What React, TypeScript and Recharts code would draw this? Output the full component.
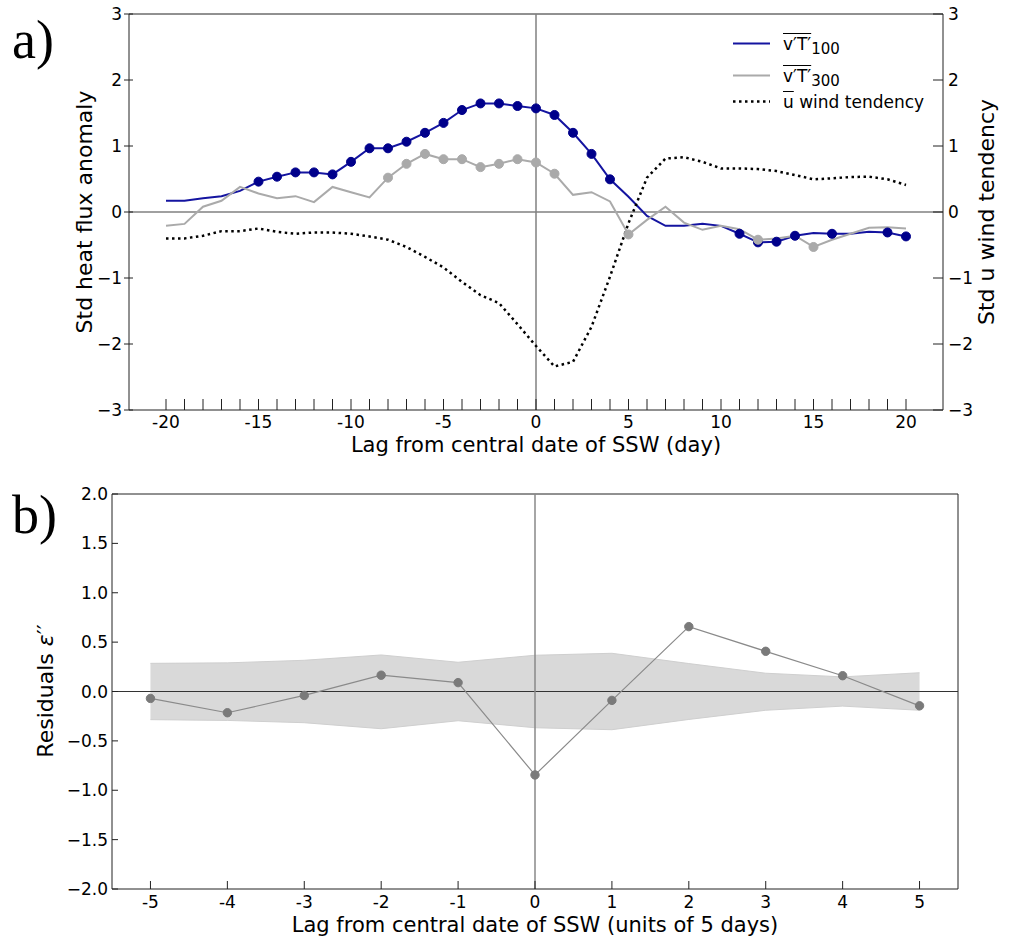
import React from 'react';
import { LineChart, ComposedChart, Line, Area, XAxis, YAxis, ReferenceLine, Legend, Label } from 'recharts';

const days = [-20, -19, -18, -17, -16, -15, -14, -13, -12, -11, -10, -9, -8, -7, -6, -5, -4, -3, -2, -1, 0, 1, 2, 3, 4, 5, 6, 7, 8, 9, 10, 11, 12, 13, 14, 15, 16, 17, 18, 19, 20];
const vt100 = [0.17, 0.17, 0.21, 0.24, 0.32, 0.46, 0.535, 0.6, 0.6, 0.57, 0.76, 0.965, 0.965, 1.065, 1.2, 1.35, 1.545, 1.645, 1.645, 1.606, 1.57, 1.47, 1.2, 0.88, 0.495, 0.23, -0.06, -0.21, -0.21, -0.18, -0.21, -0.33, -0.46, -0.45, -0.36, -0.32, -0.33, -0.33, -0.3, -0.31, -0.37];
const vt300 = [-0.21, -0.18, 0.08, 0.17, 0.38, 0.28, 0.21, 0.24, 0.15, 0.38, 0.3, 0.22, 0.52, 0.73, 0.88, 0.8, 0.8, 0.68, 0.73, 0.8, 0.75, 0.58, 0.26, 0.3, 0.16, -0.34, -0.12, 0.08, -0.16, -0.27, -0.21, -0.26, -0.42, -0.4, -0.36, -0.53, -0.42, -0.33, -0.24, -0.23, -0.25];
const uTend = [-0.4, -0.4, -0.36, -0.29, -0.29, -0.25, -0.3, -0.33, -0.31, -0.31, -0.33, -0.37, -0.42, -0.53, -0.68, -0.84, -1.06, -1.26, -1.38, -1.7, -2.03, -2.34, -2.27, -1.74, -0.98, -0.17, 0.52, 0.81, 0.83, 0.76, 0.66, 0.66, 0.65, 0.62, 0.56, 0.495, 0.51, 0.53, 0.535, 0.495, 0.41];
const vt100Markers = [-15, -14, -13, -12, -11, -10, -9, -8, -7, -6, -5, -4, -3, -2, -1, 0, 1, 2, 3, 4, 11, 12, 13, 14, 16, 19, 20];
const vt300Markers = [-8, -7, -6, -5, -4, -3, -2, -1, 0, 1, 5, 12, 15];
const topYTicks = [-3, -2, -1, 0, 1, 2, 3];

const lags = [-5, -4, -3, -2, -1, 0, 1, 2, 3, 4, 5];
const residuals = [-0.07, -0.215, -0.04, 0.165, 0.09, -0.845, -0.09, 0.657, 0.407, 0.16, -0.145];
const bandUpper = [0.285, 0.29, 0.316, 0.37, 0.296, 0.367, 0.387, 0.283, 0.185, 0.148, 0.19];
const bandLower = [-0.285, -0.293, -0.316, -0.377, -0.296, -0.367, -0.387, -0.283, -0.19, -0.148, -0.19];
const bottomYTicks = [-2, -1.5, -1, -0.5, 0, 0.5, 1, 1.5, 2];

const legendLabels = ['100', '300', ' wind tendency'];

const FONT = 'DejaVu Sans';

const topData = days.map((d, i) => ({ day: d, vt100: vt100[i], vt300: vt300[i], u: uTend[i] }));
const bottomData = lags.map((l, i) => ({ lag: l, res: residuals[i], band: [bandLower[i], bandUpper[i]] }));

const uminus = (s: string) => s.replace('-', '\u2212');

const TopXTick = (props: any) => {
  const { x, y, payload } = props;
  const v = payload.value;
  return (
    <g>
      <line x1={x} x2={x} y1={y} y2={y - 11} stroke="#222" strokeWidth={1} />
      {v % 5 === 0 ? (
        <text x={x} y={y + 18} textAnchor="middle" fontSize={17} fontFamily={FONT} fill="#000">{String(v)}</text>
      ) : null}
    </g>
  );
};

const TopLeftTick = (props: any) => {
  const { x, y, payload } = props;
  return (
    <g>
      <line x1={x - 5} x2={x + 4} y1={y} y2={y} stroke="#222" strokeWidth={1} />
      <text x={x - 7} y={y + 6} textAnchor="end" fontSize={17} fontFamily={FONT} fill="#000">{uminus(String(payload.value))}</text>
    </g>
  );
};

const TopRightTick = (props: any) => {
  const { x, y, payload } = props;
  return (
    <g>
      <line x1={x - 10} x2={x} y1={y} y2={y} stroke="#222" strokeWidth={1} />
      <text x={x + 5} y={y + 6} textAnchor="start" fontSize={17} fontFamily={FONT} fill="#000">{uminus(String(payload.value))}</text>
    </g>
  );
};

const BottomXTick = (props: any) => {
  const { x, y, payload } = props;
  return (
    <g>
      <line x1={x} x2={x} y1={y} y2={y - 8} stroke="#222" strokeWidth={1} />
      <text x={x} y={y + 19} textAnchor="middle" fontSize={17} fontFamily={FONT} fill="#000">{String(payload.value)}</text>
    </g>
  );
};

const BottomLeftTick = (props: any) => {
  const { x, y, payload } = props;
  const v = Number(payload.value);
  return (
    <g>
      <line x1={x} x2={x + 6} y1={y} y2={y} stroke="#222" strokeWidth={1} />
      <text x={x - 4} y={y + 6} textAnchor="end" fontSize={17} fontFamily={FONT} fill="#000">{uminus(v.toFixed(1))}</text>
    </g>
  );
};

const makeDot = (markers: number[], color: string) => (props: any) => {
  const { cx, cy, payload, index } = props;
  if (!markers.includes(payload.day)) return <g key={`e${index}`} />;
  return <circle key={`c${index}`} cx={cx} cy={cy} r={4.5} fill={color} stroke={color} strokeWidth={1} />;
};

const LegendBox = () => {
  const rowText = (top: number) => ({ position: 'absolute' as const, left: 63, top, fontSize: 17, lineHeight: '17px', fontFamily: FONT, whiteSpace: 'nowrap' as const, color: '#000' });
  return (
    <div style={{ position: 'relative', width: 260, height: 100 }}>
      <svg width={60} height={100} style={{ position: 'absolute', left: 0, top: 0 }}>
        <line x1={13} x2={50} y1={23.5} y2={23.5} stroke="#1414a0" strokeWidth={2} />
        <line x1={13} x2={50} y1={55.5} y2={55.5} stroke="#aaaaaa" strokeWidth={2} />
        <line x1={13} x2={50} y1={81.5} y2={81.5} stroke="#000" strokeWidth={2.5} strokeDasharray="2.5 3.5" />
      </svg>
      <div style={rowText(30 - 14.4)}>
        <span style={{ textDecoration: 'overline' }}>v′T′</span><sub style={{ fontSize: 15, verticalAlign: '-4px' }}>{legendLabels[0]}</sub>
      </div>
      <div style={rowText(62 - 14.4)}>
        <span style={{ textDecoration: 'overline' }}>v′T′</span><sub style={{ fontSize: 15, verticalAlign: '-4px' }}>{legendLabels[1]}</sub>
      </div>
      <div style={rowText(88 - 14.4)}>
        <span style={{ textDecoration: 'overline' }}>u</span>{legendLabels[2]}
      </div>
    </div>
  );
};

export default function App() {
  return (
    <div style={{ position: 'absolute', left: 0, top: 0, width: 1009, height: 938, background: '#fff', fontFamily: FONT }}>
      <div style={{ position: 'absolute', left: 0, top: 0 }}>
        <LineChart width={1009} height={470} data={topData} margin={{ top: 14, right: 0, bottom: 0, left: 0 }}>
          <XAxis dataKey="day" type="number" domain={[-22, 22]} ticks={days} interval={0} height={60}
            tickSize={0} tickMargin={0} tick={TopXTick} axisLine={{ stroke: '#222', strokeWidth: 1 }} tickLine={false}>
            <Label content={() => (
              <text x={536} y={452} textAnchor="middle" fontSize={21} fontFamily={FONT} fill="#000">Lag from central date of SSW (day)</text>
            )} />
          </XAxis>
          <YAxis yAxisId="left" type="number" domain={[-3, 3]} ticks={topYTicks} interval={0} width={129}
            tickSize={0} tickMargin={0} tick={TopLeftTick} axisLine={{ stroke: '#222', strokeWidth: 1 }} tickLine={false}>
            <Label content={() => (
              <g>
                <text x={92} y={212} transform="rotate(-90 92 212)" textAnchor="middle" fontSize={22} fontFamily={FONT} fill="#000">Std heat flux anomaly</text>
                <text x={12} y={58} fontSize={54} fontFamily="Liberation Serif" fill="#000">a)</text>
              </g>
            )} />
          </YAxis>
          <YAxis yAxisId="right" orientation="right" type="number" domain={[-3, 3]} ticks={topYTicks} interval={0} width={66}
            tickSize={0} tickMargin={0} tick={TopRightTick} axisLine={{ stroke: '#222', strokeWidth: 1 }} tickLine={false}>
            <Label content={() => (
              <text x={994} y={212} transform="rotate(-90 994 212)" textAnchor="middle" fontSize={22} fontFamily={FONT} fill="#000">Std u wind tendency</text>
            )} />
          </YAxis>
          <ReferenceLine yAxisId="left" y={3} stroke="#222" strokeWidth={1} />
          <ReferenceLine yAxisId="left" y={0} stroke="#808080" strokeWidth={1.5} />
          <ReferenceLine yAxisId="left" x={0} stroke="#808080" strokeWidth={1.5} />
          <Line yAxisId="left" dataKey="vt100" type="linear" stroke="#1414a0" strokeWidth={2} dot={makeDot(vt100Markers, '#00008b')} activeDot={false} isAnimationActive={false} />
          <Line yAxisId="left" dataKey="vt300" type="linear" stroke="#aaaaaa" strokeWidth={2} dot={makeDot(vt300Markers, '#aaaaaa')} activeDot={false} isAnimationActive={false} />
          <Line yAxisId="right" dataKey="u" type="linear" stroke="#000" strokeWidth={2.5} strokeDasharray="2.5 3.5" dot={false} activeDot={false} isAnimationActive={false} />
          <Legend layout="horizontal" verticalAlign="middle" align="center" content={() => <LegendBox />}
            wrapperStyle={{ position: 'absolute', left: 720, top: 20, width: 260, height: 100 }} />
        </LineChart>
      </div>
      <div style={{ position: 'absolute', left: 0, top: 470 }}>
        <ComposedChart width={1009} height={468} data={bottomData} margin={{ top: 24, right: 51, bottom: 0, left: 0 }}>
          <XAxis dataKey="lag" type="number" domain={[-5.5, 5.5]} ticks={lags} interval={0} height={49}
            tickSize={0} tickMargin={0} tick={BottomXTick} axisLine={{ stroke: '#222', strokeWidth: 1 }} tickLine={false}>
            <Label content={() => (
              <text x={535} y={462} textAnchor="middle" fontSize={21} fontFamily={FONT} fill="#000">Lag from central date of SSW (units of 5 days)</text>
            )} />
          </XAxis>
          <YAxis type="number" domain={[-2, 2]} ticks={bottomYTicks} interval={0} width={112}
            tickSize={0} tickMargin={0} tick={BottomLeftTick} axisLine={{ stroke: '#222', strokeWidth: 1 }} tickLine={false}>
            <Label content={() => (
              <g>
                <text x={53} y={221} transform="rotate(-90 53 221)" textAnchor="middle" fontSize={22} fontFamily={FONT} fill="#000">Residuals <tspan fontStyle="italic">ε</tspan>′′</text>
                <text x={12} y={63} fontSize={54} fontFamily="Liberation Serif" fill="#000">b)</text>
              </g>
            )} />
          </YAxis>
          <ReferenceLine y={2} stroke="#222" strokeWidth={1} />
          <ReferenceLine x={5.5} stroke="#222" strokeWidth={1} />
          <Area dataKey="band" type="linear" fill="#d9d9d9" fillOpacity={1} stroke="#cfcfcf" strokeWidth={1} dot={false} activeDot={false} isAnimationActive={false} />
          <ReferenceLine y={0} stroke="#333" strokeWidth={1} />
          <ReferenceLine x={0} stroke="#888" strokeWidth={1.5} />
          <Line dataKey="res" type="linear" stroke="#8a8a8a" strokeWidth={1.2} dot={{ r: 4.2, fill: '#7a7a7a', stroke: '#7a7a7a', strokeWidth: 1 }} activeDot={false} isAnimationActive={false} />
        </ComposedChart>
      </div>
    </div>
  );
}
